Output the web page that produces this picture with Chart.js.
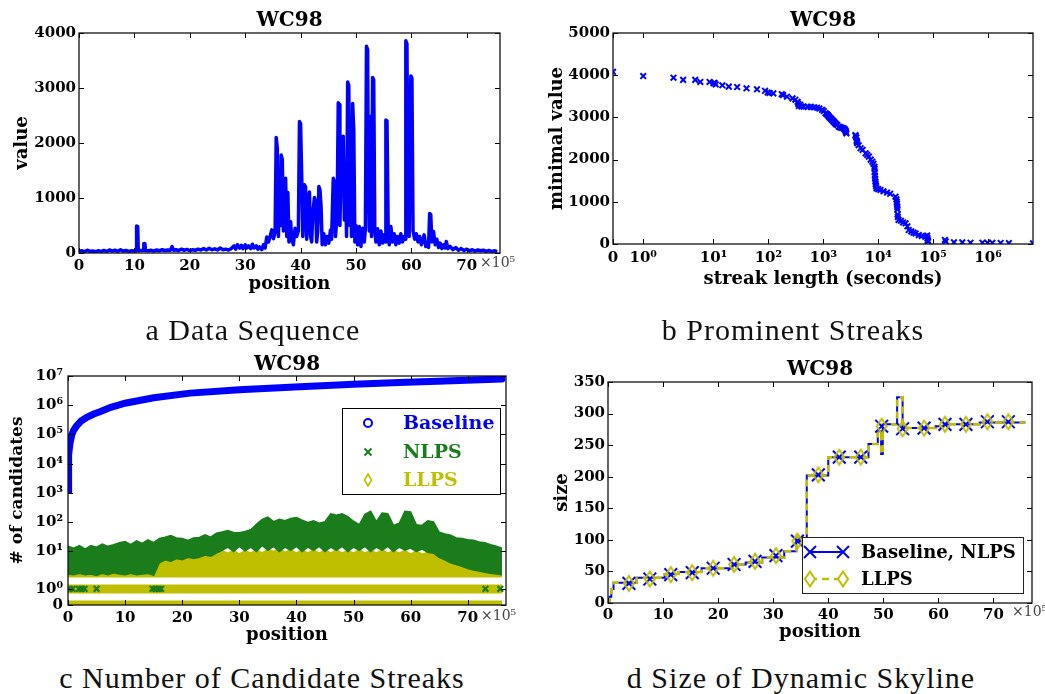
<!DOCTYPE html>
<html><head><meta charset="utf-8">
<script src="https://cdn.jsdelivr.net/npm/chart.js@4/dist/chart.umd.min.js"></script>
<style>
html,body{margin:0;padding:0;background:#fff;}
body{width:1045px;height:694px;position:relative;overflow:hidden;}
canvas{position:absolute;}
.cap{position:absolute;font-family:"Liberation Serif",serif;font-size:30px;letter-spacing:1px;color:#111;white-space:nowrap;transform:translate(-50%,-50%);line-height:1;}
</style></head><body>
<canvas id="ca" width="520" height="300" style="left:0;top:0"></canvas>
<canvas id="cb" width="525" height="300" style="left:520px;top:0"></canvas>
<canvas id="cc" width="520" height="310" style="left:0;top:340px"></canvas>
<canvas id="cd" width="525" height="310" style="left:520px;top:340px"></canvas>
<div class="cap" style="left:253px;top:330px">a Data Sequence</div>
<div class="cap" style="left:793px;top:330px">b Prominent Streaks</div>
<div class="cap" style="left:262px;top:678px">c Number of Candidate Streaks</div>
<div class="cap" style="left:801px;top:678px">d Size of Dynamic Skyline</div>
<script>
// ---------- DATA ----------
// (a) Data sequence: position (x10^5) and value
const posA = [
0,0.5,1,1.5,2,2.5,3,3.5,4,4.5,
5,5.5,6,6.5,7,7.5,8,8.5,9,9.5,
10,10.3,10.4,10.6,10.7,11,11.6,11.7,11.9,12,
12.5,13,13.5,14,14.5,15,15.5,16,16.5,16.8,
17.1,17.5,18,18.5,19,19.5,20,20.5,21,21.5,
22,22.5,23,23.5,24,24.5,25,25.5,26,26.5,
27,27.5,28,28.3,28.6,29,29.3,29.6,30,30.3,
30.6,31,31.3,31.6,32,32.3,32.6,33,33.3,33.6,
33.9,34.2,34.5,34.8,35.1,35.4,35.6,35.8,36,36.2,
36.4,36.5,36.7,36.9,37.1,37.3,37.5,37.7,37.9,38.2,
38.4,38.7,39,39.3,39.6,39.8,40,40.2,40.4,40.7,
40.9,41.1,41.3,41.6,41.8,42,42.2,42.5,42.7,42.9,
43.1,43.3,43.5,43.7,43.9,44.2,44.5,44.8,45.1,45.4,
45.6,45.9,46.1,46.3,46.6,46.8,47,47.1,47.3,47.5,
47.7,47.9,48.1,48.3,48.5,48.7,48.9,49.1,49.2,49.4,
49.6,49.8,50,50.3,50.6,50.9,51.2,51.5,51.7,51.9,
52.1,52.2,52.4,52.6,52.8,53,53.2,53.4,53.6,53.9,
54.2,54.5,54.8,55.1,55.3,55.4,55.6,55.8,56,56.3,
56.6,56.9,57.2,57.5,57.8,58.1,58.4,58.7,58.9,59,
59.2,59.4,59.6,59.9,60.1,60.3,60.6,60.9,61.2,61.5,
61.8,62.1,62.3,62.6,62.9,63.1,63.3,63.5,63.7,64,
64.3,64.6,64.9,65.2,65.5,65.8,66.1,66.3,66.6,67,
67.5,68,68.5,69,69.5,70,70.5,71,71.5,72,
72.5,73,73.5,74,74.5,75,75.5];
const valA = [
30,40,25,50,30,35,25,40,30,45,
30,55,35,50,30,60,35,45,30,40,
35,40,490,480,40,45,50,175,170,45,
40,50,35,55,40,60,45,55,50,115,
50,60,45,70,50,65,45,60,50,70,
55,80,55,85,60,75,55,90,60,70,
55,80,130,70,150,90,140,80,150,90,
130,80,160,90,130,70,110,60,150,90,
290,200,300,420,260,380,2100,1900,300,1200,
500,1780,1700,400,900,1360,300,1100,200,570,
250,150,450,300,400,2390,2350,1420,300,1240,
1200,250,700,1110,300,200,700,1010,950,200,
400,1210,1150,840,150,350,150,300,180,420,
250,1360,1300,300,700,2730,2700,500,1500,2110,
2120,600,1480,300,3110,3050,500,1630,300,2720,
2240,200,500,150,480,120,450,200,450,3760,
3700,1810,400,2480,300,3190,3150,400,200,440,
150,400,180,330,200,2420,2400,540,150,480,
200,350,150,300,180,350,200,300,250,3860,
3800,600,300,3220,3180,400,250,350,200,300,
150,250,330,120,200,100,720,700,200,390,
150,250,100,180,80,150,90,210,80,120,
60,100,50,80,45,70,40,60,35,55,
40,50,30,45,30,40,25];
const xTicksA = [0,10,20,30,40,50,60,70];
const yTicksA = [0,1000,2000,3000,4000];

// (b) Prominent streaks: streak length (s) and minimal value
const streakLen = [0,1,2.7,3.7,5.5,6.5,8.8,10,10.5,11,14.5,19,27,40,62,87,97,105,123,175,185,218,275,310,340,350,360,380,400,440,520,590,680,770,850,950,1020,1100,1150,1200,1250,1300,1350,1400,1450,1500,1550,1600,1660,1700,1800,1920,2000,2100,2200,2350,2450,2500,2550,2600,2630,3850,3900,4000,4050,4100,4140,4400,4780,5200,5900,6300,6760,7300,7800,8200,8560,8600,8650,8700,8800,8900,9000,9150,9300,10000,11000,12500,14500,16500,20700,21500,21800,22000,22200,22400,22600,22800,23500,26000,28500,31600,34000,36000,40000,44000,48000,55000,62000,72000,78000,79000,80000,81000,164000,170000,240000,340000,480000,790000,980000,1200000,1700000,2400000,6600000];
const minVal = [4080,3980,3940,3890,3890,3840,3840,3810,3820,3780,3760,3730,3720,3690,3666,3630,3590,3580,3570,3550,3530,3490,3450,3420,3370,3320,3270,3300,3260,3255,3250,3250,3240,3230,3210,3180,3150,3100,3080,3060,3030,3000,2980,2960,2940,2920,2900,2880,2860,2840,2820,2780,2770,2760,2750,2740,2720,2700,2680,2650,2620,2580,2560,2520,2450,2420,2390,2340,2270,2230,2150,2110,2070,2000,1950,1900,1830,1780,1700,1620,1550,1480,1420,1370,1320,1300,1280,1250,1220,1190,1120,1060,1000,950,880,820,700,640,570,550,510,490,420,330,300,270,250,210,190,175,200,140,90,60,95,60,40,38,30,30,28,28,25,22,15];
const xTicksB = [0,1,10,100,1000,10000,100000,1000000];
const xLabelsB = ['0','10⁰','10¹','10²','10³','10⁴','10⁵','10⁶'];
const yTicksB = [0,1000,2000,3000,4000,5000];

// (c) Number of candidate streaks
const basePos = [0.02,0.06,0.15,0.35,0.65,1,1.5,2.3,3.3,4.5,5.6,7.5,10,15,21.4,30,40.6,50,58,66,76];
const baseVal = [1300,4800,20000,50000,96000,140000,195000,290000,390000,500000,600000,850000,1170000,1800000,2600000,3400000,4300000,5200000,6000000,6800000,7900000];
const posC = [0,1,2,3,4,5,6,7,8,9,10,11,12,13,14,15,16,17,18,19,20,21,22,23,24,25,26,27,28,29,30,31,32,33,34,35,36,37,38,39,40,41,42,43,44,45,46,47,48,49,50,51,52,53,54,55,56,57,58,59,60,61,62,63,64,65,66,67,68,69,70,71,72,73,74,75,76];
const nlpsUpper = [15,13,16,12,16,14,18,15,17,20,22,17,23,19,25,20,28,31,35,29,28,24,29,30,37,31,42,46,52,45,44,48,55,85,125,150,105,125,112,135,145,118,98,112,92,104,195,175,195,155,108,82,185,235,105,205,195,78,92,235,225,82,78,112,102,46,40,36,29,28,25,24,21,20,17,15,13];
const nlpsLower = [2.5,2.4,2.6,2.4,2.5,2.3,2.6,2.4,2.7,2.5,2.4,2.6,2.4,2.5,2.6,2.3,5,6,5.5,6.5,6,7,6.5,7,8,7.5,9,11,14,10,15,10.5,14,10,16,11,15,10,14,11,15,10,14,11,15,10,14,11,15,10,14,11,15,10,14,11,15,10,14,11,13,10,12,9.5,9,7,6,5,4.5,4,3.5,3.2,3,2.8,2.6,2.5,2.4];
const llpsUpper = [3.2,3.4,3.1,3.3,3.5,3.2,3.4,3.3,3.6,3.2,3.5,3.3,3.6,3.4,3.5,3.3,6.5,7,6.5,7.5,7,7.5,8,7.5,8,8.5,8,10.5,9,11,8.5,11,9,11.5,9,12,10,13,9.5,11.5,9,11.5,9,11.5,9,11.5,9,11.5,9,11,9,11.5,9,11,9,11.5,9,11,9,11,8.5,10.5,8.5,9.5,8,7.5,7,6.5,6,5.5,5,4.5,4,3.8,3.5,3.2,3];
const llpsLowPos = [0,76];
const llpsLow = [2.1,2.1];
const rowPos = [0,76];
const llpsRowOne = [1,1];
const llpsRowZero = [0,0];
const nlpsOnePos = [0.3,0.8,1.9,2.4,2.9,5.0,14.8,15.3,15.9,16.3,73.1,75.7];
const nlpsOneVal = [1,1,1,1,1,1,1,1,1,1,1,1];
const xTicksC = [0,10,20,30,40,50,60,70];
const yTicksC = [0,1,10,100,1000,10000,100000,1000000,10000000];
const yLabelsC = ['0','10⁰','10¹','10²','10³','10⁴','10⁵','10⁶','10⁷'];

// (d) Size of dynamic skyline (step changes)
const skyPos = [0,0.3,0.6,1.0,5.2,10.3,12.8,17.0,22.6,25.0,28.0,32.0,34.2,34.6,35.4,36.1,40.0,47.3,49.0,49.6,49.9,52.5,53.5,59.5,61.0,67.5,75.8];
const skySize = [0,10,22,32,40,46,49,55,61,64,72,82,105,98,103,202,231,252,272,236,283,326,277,280,283,286,286];
const markPos = [3.8,7.6,11.4,15.3,19.1,22.9,26.7,30.5,34.4,38.2,42.0,45.9,49.7,53.5,57.4,61.2,65.0,68.9,72.7];
const markSize = [31,38,45,48,55,61,66,75,98,203,231,231,280,276,277,283,283,287,287];
const xTicksD = [0,10,20,30,40,50,60,70];
const yTicksD = [0,50,100,150,200,250,300,350];

// ---------- HELPERS ----------
const BLUE = '#0000ff', GREEN = '#1b7c1b', YELLOW = '#bfbf00';
const FAM = '"DejaVu Serif", serif';
const tickFont = {family: FAM, size: 15, weight: 'bold'};
const labFont = {family: FAM, size: 18, weight: 'bold'};
const plain = v => String(v);

function symT(v){ if (v <= 0) return 0; if (v <= 1) return 0.55*v; const l = Math.log10(v); if (l <= 1) return 0.55 + 1.28*l; return 1.83 + (l - 1); }
function symInv(t){ if (t <= 0.55) return t/0.55; if (t <= 1.83) return Math.pow(10, (t-0.55)/1.28); return Math.pow(10, t - 0.83); }
class SymLogScale extends Chart.LinearScale {
  static id = 'symlog';
  static defaults = {};
  determineDataLimits(){ this.min = this.options.min; this.max = this.options.max; }
  buildTicks(){ return []; }
  getPixelForValue(v){ const t0 = symT(this.min), t1 = symT(this.max); return this.getPixelForDecimal((symT(v)-t0)/(t1-t0)); }
  getValueForPixel(p){ const t0 = symT(this.min), t1 = symT(this.max); return symInv(t0 + this.getDecimalForPixel(p)*(t1-t0)); }
}
Chart.register(SymLogScale);

const framePlugin = {
  id: 'frame',
  afterDraw(chart, args, o) {
    const {ctx, chartArea: a} = chart;
    const xs = chart.scales.x, ys = chart.scales.y;
    ctx.save();
    ctx.strokeStyle = '#000'; ctx.lineWidth = 1;
    ctx.beginPath();
    const L = 5;
    xs.ticks.forEach((t, i) => { const p = Math.round(xs.getPixelForTick(i)) + 0.5; ctx.moveTo(p, a.bottom); ctx.lineTo(p, a.bottom - L); ctx.moveTo(p, a.top); ctx.lineTo(p, a.top + L); });
    ys.ticks.forEach((t, i) => { const p = Math.round(ys.getPixelForTick(i)) + 0.5; ctx.moveTo(a.left, p); ctx.lineTo(a.left + L, p); ctx.moveTo(a.right, p); ctx.lineTo(a.right - L, p); });
    ctx.stroke();
    ctx.lineWidth = 1.3; ctx.strokeStyle = '#111';
    ctx.strokeRect(a.left, a.top, a.right - a.left, a.bottom - a.top);
    ctx.fillStyle = '#000'; ctx.font = 'bold 20px ' + FAM; ctx.textAlign = 'center'; ctx.textBaseline = 'middle';
    ctx.fillText(o.title, (a.left + a.right)/2, o.titleY);
    if (o.offsetText) { ctx.font = '14px ' + FAM; ctx.textAlign = 'left'; ctx.fillStyle = '#444'; ctx.fillText(o.offsetText, o.offX, o.offY); }
    ctx.restore();
  }
};

function xy(xs, ys){ return xs.map((x, i) => ({x, y: ys[i]})); }
function setTicks(vals){ return s => { s.ticks = vals.map(v => ({value: v})); }; }
function axis(extra){
  return Object.assign({
    grid: {display: false, drawTicks: false},
    border: {display: false},
  }, extra);
}
function xTitle(text, pb){ return {display: true, text, font: labFont, color: '#000', padding: {top: 0, bottom: pb}}; }
function yTitle(text, pt, size){ return {display: true, text, font: Object.assign({}, labFont, size ? {size} : {}), color: '#000', padding: {top: pt, bottom: 0}}; }

function thinDiamond(w, h, color, lw){
  const c = document.createElement('canvas'); c.width = w + 4; c.height = h + 4;
  const g = c.getContext('2d'); g.strokeStyle = color; g.lineWidth = lw;
  const cx = c.width/2, cy = c.height/2;
  g.beginPath(); g.moveTo(cx, cy - h/2); g.lineTo(cx + w/2, cy); g.lineTo(cx, cy + h/2); g.lineTo(cx - w/2, cy); g.closePath(); g.stroke();
  return c;
}
function drawX(ctx, x, y, r, color, lw){ ctx.save(); ctx.strokeStyle = color; ctx.lineWidth = lw; ctx.beginPath(); ctx.moveTo(x-r, y-r); ctx.lineTo(x+r, y+r); ctx.moveTo(x-r, y+r); ctx.lineTo(x+r, y-r); ctx.stroke(); ctx.restore(); }
function drawDiamond(ctx, x, y, w, h, color, lw){ ctx.save(); ctx.strokeStyle = color; ctx.lineWidth = lw; ctx.fillStyle = '#fff'; ctx.beginPath(); ctx.moveTo(x, y-h/2); ctx.lineTo(x+w/2, y); ctx.lineTo(x, y+h/2); ctx.lineTo(x-w/2, y); ctx.closePath(); ctx.fill(); ctx.stroke(); ctx.restore(); }

const common = {responsive: false, animation: false, devicePixelRatio: 1, events: []};

// ---------- (a) ----------
new Chart(document.getElementById('ca'), {
  type: 'line',
  data: {datasets: [{label: 'value', data: xy(posA, valA), borderColor: BLUE, borderWidth: 3.5, pointRadius: 0, tension: 0, borderJoinStyle: 'round'}]},
  options: Object.assign({}, common, {
    layout: {padding: {left: 0, top: 33, right: 20, bottom: 0}},
    plugins: {legend: {display: false}, tooltip: {enabled: false},
      frame: {title: 'WC98', titleY: 21, offsetText: '×10⁵', offX: 480, offY: 263}},
    scales: {
      x: axis({type: 'linear', min: 0, max: 76, afterBuildTicks: setTicks(xTicksA),
        ticks: {font: tickFont, color: '#000', padding: 4, maxRotation: 0, autoSkip: false, callback: plain},
        title: xTitle('position', 5), afterFit: s => { s.height = 47; }}),
      y: axis({type: 'linear', min: 0, max: 4000, afterBuildTicks: setTicks(yTicksA),
        ticks: {font: tickFont, color: '#000', padding: 3, autoSkip: false, callback: plain},
        title: yTitle('value', 12), afterFit: s => { s.width = 79; }})
    }
  }),
  plugins: [framePlugin]
});

// ---------- (b) ----------
new Chart(document.getElementById('cb'), {
  type: 'scatter',
  data: {datasets: [{label: 'minimal value', data: xy(streakLen, minVal), pointStyle: 'crossRot', pointRadius: 4, borderColor: BLUE, borderWidth: 2, backgroundColor: BLUE, clip: 0}]},
  options: Object.assign({}, common, {
    layout: {padding: {left: 0, top: 33, right: 12, bottom: 0}},
    plugins: {legend: {display: false}, tooltip: {enabled: false}, frame: {title: 'WC98', titleY: 21}},
    scales: {
      x: axis({type: 'symlog', min: 0, max: 6600000, afterBuildTicks: setTicks(xTicksB),
        ticks: {font: tickFont, color: '#000', padding: 5, maxRotation: 0, autoSkip: false, callback: (v, i) => xLabelsB[i]},
        title: xTitle('streak length (seconds)', 10), afterFit: s => { s.height = 56; }}),
      y: axis({type: 'linear', min: 0, max: 5000, afterBuildTicks: setTicks(yTicksB),
        ticks: {font: tickFont, color: '#000', padding: 3, autoSkip: false, callback: plain},
        title: yTitle('minimal value', 27), afterFit: s => { s.width = 93; }})
    }
  }),
  plugins: [framePlugin]
});

// ---------- (c) ----------
const legendC = {
  id: 'legendC',
  afterDraw(chart){
    const ctx = chart.ctx; ctx.save();
    ctx.fillStyle = '#fff'; ctx.fillRect(342, 68, 158, 86);
    ctx.strokeStyle = '#000'; ctx.lineWidth = 1; ctx.strokeRect(342.5, 68.5, 158, 86);
    const rows = [[83, 'Baseline', BLUE], [112, 'NLPS', GREEN], [140, 'LLPS', YELLOW]];
    ctx.font = 'bold 19px ' + FAM; ctx.textAlign = 'left'; ctx.textBaseline = 'middle';
    rows.forEach(([y, t, c]) => { ctx.fillStyle = c; ctx.fillText(t, 403, y + 1); });
    ctx.strokeStyle = BLUE; ctx.lineWidth = 2; ctx.beginPath(); ctx.arc(368, 83, 4, 0, Math.PI*2); ctx.stroke();
    drawX(ctx, 368, 112, 3.5, GREEN, 2);
    drawDiamond(ctx, 368, 140, 7, 12, YELLOW, 1.6);
    ctx.restore();
  }
};
new Chart(document.getElementById('cc'), {
  type: 'line',
  data: {datasets: [
    {label: 'NLPS', data: xy(posC, nlpsUpper), borderColor: GREEN, backgroundColor: GREEN, borderWidth: 1.5, pointRadius: 0, fill: '+1', order: 1},
    {label: 'NLPS low', data: xy(posC, nlpsLower), borderColor: GREEN, borderWidth: 1.5, pointRadius: 0, fill: false, order: 2},
    {label: 'LLPS', data: xy(posC, llpsUpper), borderColor: YELLOW, backgroundColor: YELLOW, borderWidth: 1.5, pointRadius: 0, fill: '+1', order: 5},
    {label: 'LLPS low', data: xy(llpsLowPos, llpsLow), borderColor: YELLOW, borderWidth: 1.5, pointRadius: 0, fill: false, order: 6},
    {label: 'LLPS one', data: xy(rowPos, llpsRowOne), borderColor: YELLOW, borderWidth: 9, pointRadius: 0, fill: false, order: 3},
    {label: 'LLPS zero', data: xy(rowPos, llpsRowZero), borderColor: YELLOW, borderWidth: 9, pointRadius: 0, fill: false, order: 4},
    {label: 'NLPS one', data: xy(nlpsOnePos, nlpsOneVal), showLine: false, pointStyle: 'crossRot', pointRadius: 4, borderColor: GREEN, borderWidth: 2.2, order: 0},
    {label: 'Baseline', data: xy(basePos, baseVal), borderColor: BLUE, borderWidth: 7, pointRadius: 0, fill: false, tension: 0, order: 7, borderCapStyle: 'round'}
  ]},
  options: Object.assign({}, common, {
    layout: {padding: {left: 0, top: 36, right: 14, bottom: 0}},
    plugins: {legend: {display: false}, tooltip: {enabled: false},
      frame: {title: 'WC98', titleY: 25, offsetText: '×10⁵', offX: 481, offY: 276}},
    scales: {
      x: axis({type: 'linear', min: 0, max: 76.7, afterBuildTicks: setTicks(xTicksC),
        ticks: {font: tickFont, color: '#000', padding: 4, maxRotation: 0, autoSkip: false, callback: plain},
        title: xTitle('position', 4), afterFit: s => { s.height = 45; }}),
      y: axis({type: 'symlog', min: 0, max: 10000000, afterBuildTicks: setTicks(yTicksC),
        ticks: {font: tickFont, color: '#000', padding: 5, autoSkip: false, callback: (v, i) => yLabelsC[i]},
        title: yTitle('# of candidates', 7, 17), afterFit: s => { s.width = 68; }})
    }
  }),
  plugins: [framePlugin, legendC]
});

// ---------- (d) ----------
const diamondImg = thinDiamond(10, 15, YELLOW, 2);
const legendD = {
  id: 'legendD',
  afterDraw(chart){
    const ctx = chart.ctx; ctx.save();
    ctx.fillStyle = '#fff'; ctx.fillRect(282, 197, 221, 56);
    ctx.strokeStyle = '#222'; ctx.lineWidth = 1; ctx.strokeRect(282.5, 197.5, 221, 56);
    ctx.strokeStyle = BLUE; ctx.lineWidth = 2; ctx.beginPath(); ctx.moveTo(290, 212); ctx.lineTo(323, 212); ctx.stroke();
    drawX(ctx, 290, 212, 6, BLUE, 2); drawX(ctx, 323, 212, 6, BLUE, 2);
    ctx.strokeStyle = YELLOW; ctx.lineWidth = 2.5; ctx.setLineDash([7, 5]); ctx.beginPath(); ctx.moveTo(290, 239); ctx.lineTo(323, 239); ctx.stroke(); ctx.setLineDash([]);
    drawDiamond(ctx, 290, 239, 10, 15, YELLOW, 2); drawDiamond(ctx, 323, 239, 10, 15, YELLOW, 2);
    ctx.fillStyle = '#000'; ctx.font = 'bold 18px ' + FAM; ctx.textAlign = 'left'; ctx.textBaseline = 'middle';
    ctx.fillText('Baseline, NLPS', 341, 213); ctx.fillText('LLPS', 341, 240);
    ctx.restore();
  }
};
new Chart(document.getElementById('cd'), {
  type: 'line',
  data: {datasets: [
    {label: 'LLPS marks', data: xy(markPos, markSize), showLine: false, pointStyle: diamondImg, pointRadius: 7, order: 0},
    {label: 'Baseline, NLPS marks', data: xy(markPos, markSize), showLine: false, pointStyle: 'crossRot', pointRadius: 9, borderColor: BLUE, borderWidth: 2, order: 1},
    {label: 'LLPS', data: xy(skyPos, skySize), stepped: true, borderColor: YELLOW, borderWidth: 2.5, borderDash: [7, 5], pointRadius: 0, fill: false, order: 2},
    {label: 'Baseline, NLPS', data: xy(skyPos, skySize), stepped: true, borderColor: BLUE, borderWidth: 2, pointRadius: 0, fill: false, order: 3}
  ]},
  options: Object.assign({}, common, {
    layout: {padding: {left: 0, top: 42, right: 13, bottom: 0}},
    plugins: {legend: {display: false}, tooltip: {enabled: false},
      frame: {title: 'WC98', titleY: 30, offsetText: '×10⁵', offX: 492, offY: 272}},
    scales: {
      x: axis({type: 'linear', min: 0, max: 77, afterBuildTicks: setTicks(xTicksD),
        ticks: {font: tickFont, color: '#000', padding: 3, maxRotation: 0, autoSkip: false, callback: plain},
        title: xTitle('position', 7), afterFit: s => { s.height = 47; }}),
      y: axis({type: 'linear', min: 0, max: 350, afterBuildTicks: setTicks(yTicksD),
        ticks: {font: tickFont, color: '#000', padding: 3, autoSkip: false, callback: plain},
        title: yTitle('size', 32), afterFit: s => { s.width = 88; }})
    }
  }),
  plugins: [framePlugin, legendD]
});
</script>
</body></html>
